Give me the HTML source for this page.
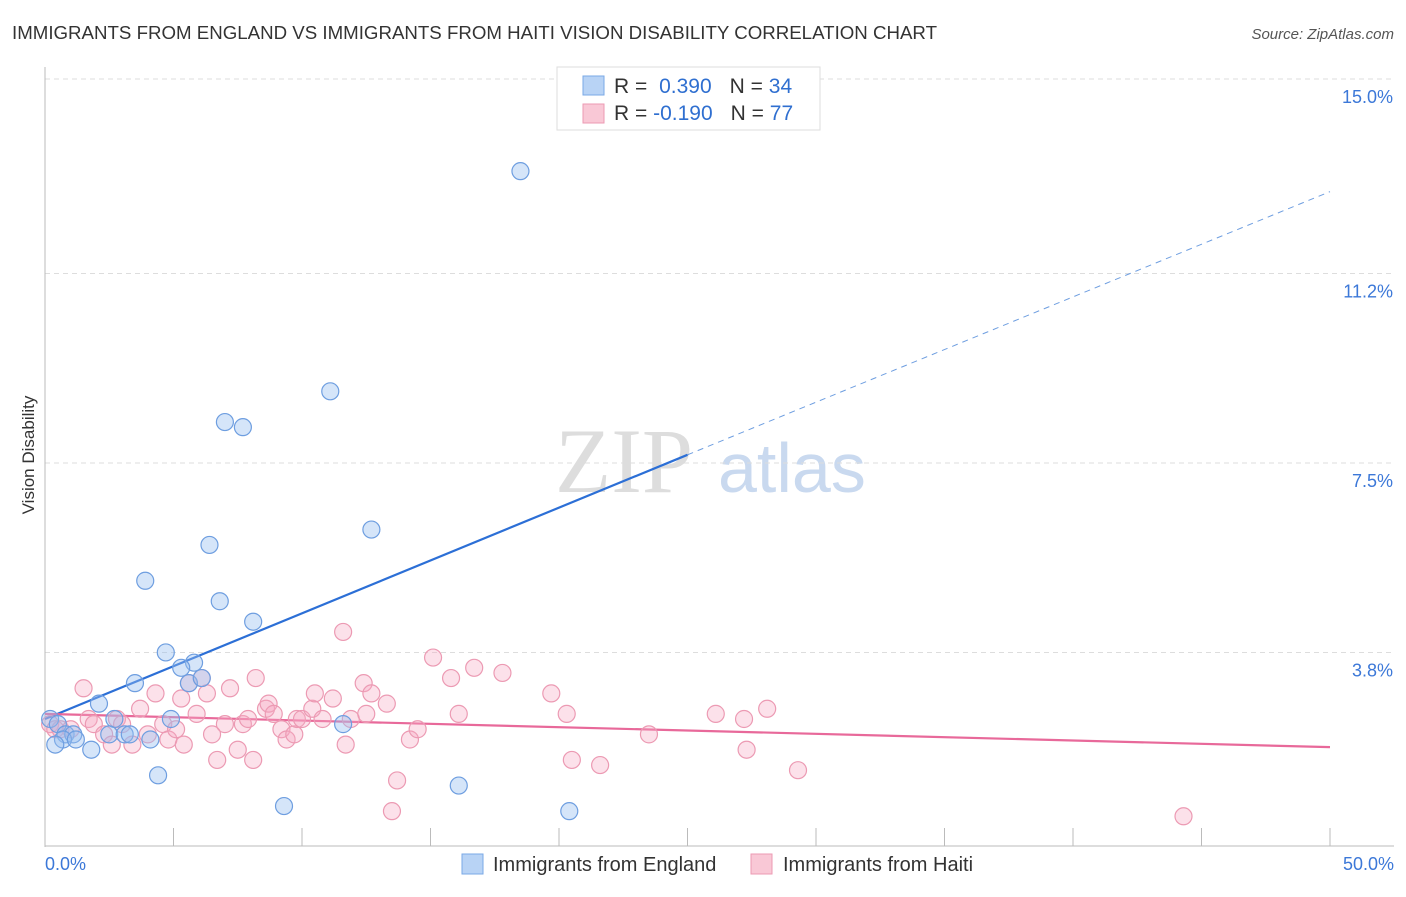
<!DOCTYPE html>
<html><head><meta charset="utf-8">
<style>
body{margin:0;background:#fff;font-family:"Liberation Sans",sans-serif;}
</style></head>
<body>
<svg id="chart" width="1406" height="892" xmlns="http://www.w3.org/2000/svg" font-family="Liberation Sans, sans-serif">
<text x="12" y="39" font-size="18" fill="#333" textLength="925" lengthAdjust="spacingAndGlyphs">IMMIGRANTS FROM ENGLAND VS IMMIGRANTS FROM HAITI VISION DISABILITY CORRELATION CHART</text>
<text x="1394" y="39" font-size="15" fill="#555" text-anchor="end" font-style="italic">Source: ZipAtlas.com</text>
<text x="555" y="492" font-size="92" fill="#ddd" font-family="Liberation Serif, serif">ZIP</text>
<text x="718" y="492" font-size="70" fill="#c9d9ef">atlas</text>
<text transform="translate(34,455) rotate(-90)" font-size="17" fill="#333" text-anchor="middle">Vision Disability</text>
<g id="grid"></g>
<g id="axes"></g>
<g id="trend"></g>
<g id="pts"></g>
<g>
<rect x="557" y="67" width="263" height="63" fill="#fff" stroke="#ddd"/>
<rect x="583" y="76" width="21" height="19" fill="#b8d3f5" stroke="#7aa8e6"/>
<rect x="583" y="104" width="21" height="19" fill="#f9c8d6" stroke="#ec9ab3"/>
<text x="614" y="93" font-size="21" fill="#333">R = <tspan fill="#2f6fd0" dx="6">0.390</tspan><tspan fill="#333" dx="18">N = </tspan><tspan fill="#2f6fd0">34</tspan></text>
<text x="614" y="120" font-size="21" fill="#333">R = <tspan fill="#2f6fd0">-0.190</tspan><tspan fill="#333" dx="18">N = </tspan><tspan fill="#2f6fd0">77</tspan></text>
</g>
<g>
<rect x="462" y="854" width="21" height="20" fill="#b8d3f5" stroke="#7aa8e6"/>
<text x="493" y="871" font-size="20" fill="#333">Immigrants from England</text>
<rect x="751" y="854" width="21" height="20" fill="#f9c8d6" stroke="#ec9ab3"/>
<text x="783" y="871" font-size="20" fill="#333">Immigrants from Haiti</text>
</g>
</svg>
<script>
const yTicks=[3.8,7.5,11.2,15.0];
const yTickLabels=["3.8%","7.5%","11.2%","15.0%"];
const xTickCount=[0,5,10,15,20,25,30,35,40,45,50];
const englandX=[18.5,11.1,7.0,7.7,12.7,6.4,3.9,6.8,8.1,4.7,5.8,5.3,5.6,6.1,3.5,2.1,0.2,0.5,2.7,4.9,0.8,1.1,0.7,1.2,0.4,1.8,2.5,3.1,3.3,4.1,4.4,9.3,11.6,16.1,20.4];
const englandY=[13.2,8.9,8.3,8.2,6.2,5.9,5.2,4.8,4.4,3.8,3.6,3.5,3.2,3.3,3.2,2.8,2.5,2.4,2.5,2.5,2.2,2.2,2.1,2.1,2.0,1.9,2.2,2.2,2.2,2.1,1.4,0.8,2.4,1.2,0.7];
const haitiX=[0.2,0.4,0.6,1.0,1.5,1.7,1.9,2.3,2.6,2.8,3.0,3.4,3.7,4.0,4.3,4.6,4.8,5.1,5.3,5.4,5.6,5.9,6.1,6.3,6.5,6.7,7.0,7.2,7.5,7.7,7.9,8.1,8.2,8.6,8.7,8.9,9.2,9.4,9.7,9.8,10.0,10.4,10.5,10.8,11.2,11.6,11.7,11.9,12.4,12.5,12.7,13.3,13.7,13.5,14.2,14.5,15.1,15.8,16.1,16.7,17.8,19.7,20.3,20.5,21.6,23.5,26.1,27.2,27.3,28.1,29.3,44.3];
const haitiY=[2.4,2.3,2.3,2.3,3.1,2.5,2.4,2.2,2.0,2.5,2.4,2.0,2.7,2.2,3.0,2.4,2.1,2.3,2.9,2.0,3.2,2.6,3.3,3.0,2.2,1.7,2.4,3.1,1.9,2.4,2.5,1.7,3.3,2.7,2.8,2.6,2.3,2.1,2.2,2.5,2.5,2.7,3.0,2.5,2.9,4.2,2.0,2.5,3.2,2.6,3.0,2.8,1.3,0.7,2.1,2.3,3.7,3.3,2.6,3.5,3.4,3.0,2.6,1.7,1.6,2.2,2.6,2.5,1.9,2.7,1.5,0.6];
const englandTrend=[[0,2.5],[25,7.66],[50,12.8]];
const haitiTrend=[[0,2.6],[50,1.95]];
const X=v=>45+v*25.7, Y=v=>847-v*51.2;
const NS="http://www.w3.org/2000/svg";
function mk(t,a,p){const e=document.createElementNS(NS,t);for(const k in a)e.setAttribute(k,a[k]);p.appendChild(e);return e;}
const grid=document.getElementById('grid'),axes=document.getElementById('axes');
yTicks.forEach((v,i)=>{
 const l=mk('line',{x1:45,x2:1394,y1:Y(v),y2:Y(v),stroke:'#ddd','stroke-dasharray':'5,4'},grid);
 
 
 const t=mk('text',{x:1393,y:Y(v)+24,'font-size':18,fill:'#3c78d8','text-anchor':'end'},grid);
 t.textContent=yTickLabels[i];
 
 
});
const ya=mk('line',{x1:45,x2:45,y1:67,y2:847,stroke:'#bbb'},axes);


const xa=mk('line',{x1:45,x2:1394,y1:846,y2:846,stroke:'#bbb'},axes);


xTickCount.forEach(v=>{
 const t=mk('line',{x1:X(v),x2:X(v),y1:828,y2:846,stroke:'#bbb'},axes);
 
 
});
const xl0=mk('text',{x:45,y:870,'font-size':18,fill:'#3c78d8'},axes);xl0.textContent='0.0%';


const xl1=mk('text',{x:1394,y:870,'font-size':18,fill:'#3c78d8','text-anchor':'end'},axes);xl1.textContent='50.0%';


const pts=document.getElementById('pts');
haitiX.forEach((x,i)=>{
 const c=mk('circle',{cx:X(x),cy:Y(haitiY[i]),r:8.5,fill:'rgba(246,170,195,0.35)',stroke:'#ec9ab3','stroke-width':1.2},pts);
 
 
});
englandX.forEach((x,i)=>{
 const c=mk('circle',{cx:X(x),cy:Y(englandY[i]),r:8.5,fill:'rgba(150,190,240,0.4)',stroke:'#6e9ee0','stroke-width':1.2},pts);
 
 
});
const tr=document.getElementById('trend');
const b1=mk('line',{x1:X(englandTrend[0][0]),y1:Y(englandTrend[0][1]),x2:X(englandTrend[1][0]),y2:Y(englandTrend[1][1]),stroke:'#2c6fd6','stroke-width':2.2},tr);


const b2=mk('line',{x1:X(englandTrend[1][0]),y1:Y(englandTrend[1][1]),x2:X(englandTrend[2][0]),y2:Y(englandTrend[2][1]),stroke:'#6e9ee0','stroke-width':1,'stroke-dasharray':'6,5'},tr);


const p1=mk('line',{x1:X(haitiTrend[0][0]),y1:Y(haitiTrend[0][1]),x2:X(haitiTrend[1][0]),y2:Y(haitiTrend[1][1]),stroke:'#e8699a','stroke-width':2.2},tr);


</script>
</body></html>
